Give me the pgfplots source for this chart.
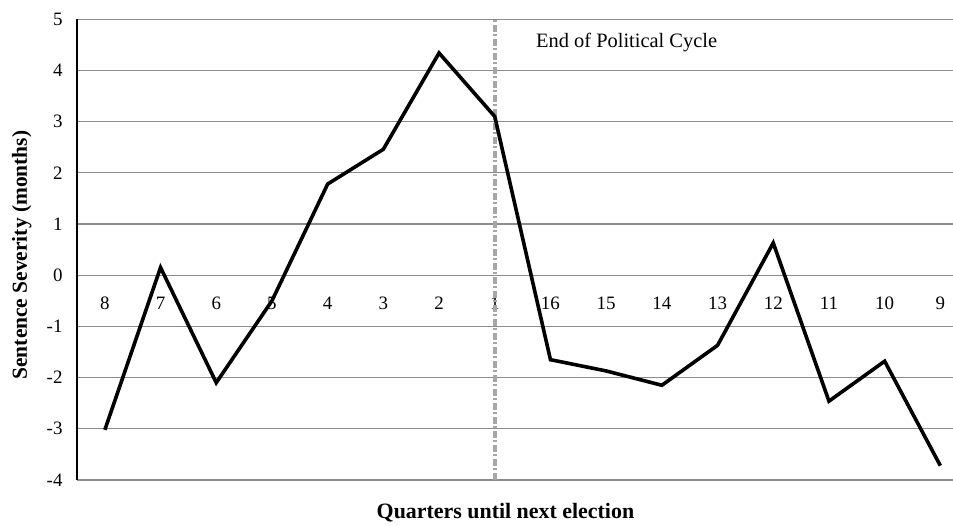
\documentclass[border=0pt]{standalone}
\usepackage{pgfplots}
\pgfplotsset{compat=1.18}
\usepackage{fontspec}
\setmainfont{Liberation Serif}
\begin{document}
\begin{tikzpicture}
\begin{axis}[
  at={(77bp,46bp)}, anchor=south west,
  scale only axis,
  x=55.7bp, y=51.2bp,
  xmin=-0.5, xmax=15.23,
  ymin=-4, ymax=5,
  axis x line*=bottom, axis y line*=left,
  x axis line style={draw=none},
  y axis line style={black, line width=1.3bp, -},
  ytick={-4,-3,-2,-1,0,1,2,3,4,5},
  yticklabels={-4,-3,-2,-1,0,1,2,3,4,5},
  xtick={0,...,15},
  xticklabels={8,7,6,5,4,3,2,1,16,15,14,13,12,11,10,9},
  major tick length=0pt,
  ymajorgrids,
  grid style={gray!90, line width=1.1bp},
  yticklabel style={font=\fontsize{19}{19}\selectfont, anchor=east, xshift=-11bp},
  xticklabel style={font=\fontsize{19}{19}\selectfont, anchor=center, yshift=177bp},
  every axis y label/.style={at={(axis description cs:-0.063,0.488)}, rotate=90, anchor=center},
  every axis x label/.style={at={(axis description cs:0.489,0)}, anchor=center, yshift=-33bp},
  ylabel={\fontsize{21.5}{22}\selectfont\bfseries Sentence Severity (months)},
  xlabel={\fontsize{22}{23}\selectfont\bfseries Quarters until next election},
  clip=true,
]
\addplot[gray!70, line width=4bp, dash pattern=on 7bp off 2.5bp on 2bp off 2.5bp] coordinates {(7,-4) (7,5)};
\addplot[black, line width=3.6bp, line join=miter] coordinates {
(0,-3.02) (1,0.15) (2,-2.10) (3,-0.50) (4,1.78) (5,2.46) (6,4.34) (7,3.10)
(8,-1.65) (9,-1.87) (10,-2.15) (11,-1.37) (12,0.63) (13,-2.46) (14,-1.68) (15,-3.72)};
\node[anchor=west, font=\fontsize{20.5}{21}\selectfont] at (axis cs:7.68,4.55) {End of Political Cycle};
\end{axis}
\pgfresetboundingbox
\path (0,0) rectangle (953bp,526bp);
\end{tikzpicture}
\end{document}
